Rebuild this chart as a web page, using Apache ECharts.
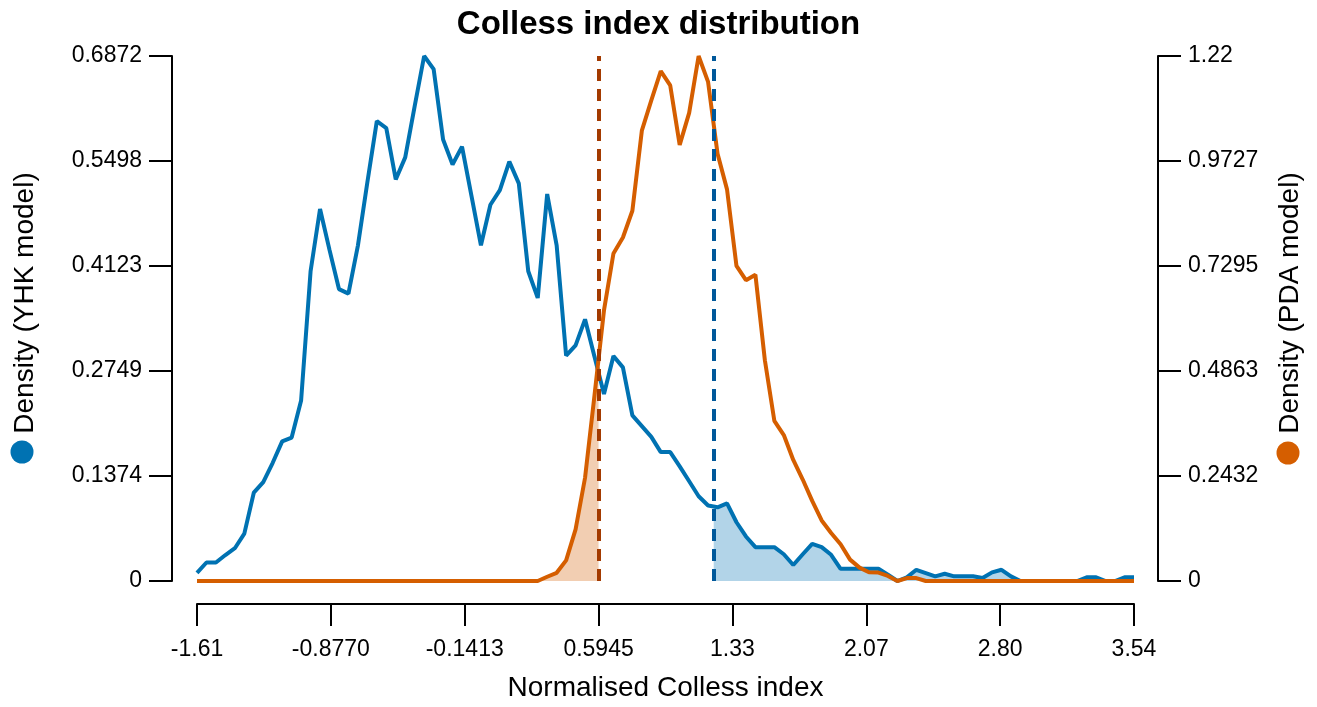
<!DOCTYPE html>
<html>
<head>
<meta charset="utf-8">
<script src="https://cdn.jsdelivr.net/npm/echarts@6/dist/echarts.min.js"></script>
<style>
html,body{margin:0;padding:0;background:#fff;}
#chart{width:1317px;height:707px;}
</style>
</head>
<body>
<div id="chart"></div>
<script>
// ---- data ----
const xStart = -1.61;
const xEnd = 3.54;
const nPoints = 100;

const xTickLabels = ['-1.61', '-0.8770', '-0.1413', '0.5945', '1.33', '2.07', '2.80', '3.54'];
const leftTickLabels = ['0', '0.1374', '0.2749', '0.4123', '0.5498', '0.6872'];
const rightTickLabels = ['0', '0.2432', '0.4863', '0.7295', '0.9727', '1.22'];

const leftMax = 0.6872;
const rightMax = 1.2159;

const yhkDensity = [
  0.0107, 0.0242, 0.0242, 0.0340, 0.0429, 0.0620, 0.1156, 0.1295, 0.1547, 0.1827,
  0.1878, 0.2363, 0.4054, 0.4870, 0.4334, 0.3821, 0.3761, 0.4390, 0.5219, 0.6020,
  0.5928, 0.5256, 0.5545, 0.6216, 0.6872, 0.6701, 0.5778, 0.5452, 0.5685, 0.5042,
  0.4394, 0.4925, 0.5117, 0.5489, 0.5205, 0.4054, 0.3705, 0.5065, 0.4394, 0.2950,
  0.3085, 0.3425, 0.2936, 0.2447, 0.2945, 0.2796, 0.2167, 0.2027, 0.1887, 0.1687,
  0.1687, 0.1500, 0.1305, 0.1109, 0.0988, 0.0965, 0.1016, 0.0769, 0.0583, 0.0443,
  0.0443, 0.0443, 0.0350, 0.0210, 0.0350, 0.0486, 0.0443, 0.0343, 0.0160, 0.0160,
  0.0160, 0.0160, 0.0160, 0.0082, 0.0000, 0.0048, 0.0147, 0.0104, 0.0061, 0.0095,
  0.0061, 0.0061, 0.0061, 0.0039, 0.0113, 0.0147, 0.0061, 0.0000, 0.0000, 0.0000,
  0.0000, 0.0000, 0.0000, 0.0000, 0.0048, 0.0048, 0.0000, 0.0000, 0.0048, 0.0048
];

const pdaDensity = [
  0, 0, 0, 0, 0, 0, 0, 0, 0, 0,
  0, 0, 0, 0, 0, 0, 0, 0, 0, 0,
  0, 0, 0, 0, 0, 0, 0, 0, 0, 0,
  0, 0, 0, 0, 0, 0, 0, 0.0099, 0.0190, 0.0478,
  0.1196, 0.2391, 0.4300, 0.6266, 0.7585, 0.7956, 0.8575, 1.0430, 1.1131, 1.1807,
  1.1477, 1.0100, 1.0842, 1.2159, 1.1559, 0.9894, 0.9070, 0.7297, 0.6967, 0.7091,
  0.5112, 0.3710, 0.3380, 0.2803, 0.2350, 0.1855, 0.1402, 0.1113, 0.0850, 0.0495,
  0.0310, 0.0203, 0.0195, 0.0116, 0.0000, 0.0068, 0.0068, 0, 0, 0,
  0, 0, 0, 0, 0, 0, 0, 0, 0, 0,
  0, 0, 0, 0, 0, 0, 0, 0, 0, 0
];

const pdaCut = 0.597;   // orange dashed line
const yhkCut = 1.23;    // blue dashed line

// ---- build ----
const xStep = (xEnd - xStart) / (nPoints - 1);
const xs = yhkDensity.map((_, i) => xStart + i * xStep);
const yhkPts = xs.map((x, i) => [x, yhkDensity[i]]);
const pdaPts = xs.map((x, i) => [x, pdaDensity[i]]);

function lineAt(x, pts) {
  for (let i = 0; i < pts.length - 1; i++) {
    if (x >= pts[i][0] && x <= pts[i + 1][0]) {
      const t = (x - pts[i][0]) / (pts[i + 1][0] - pts[i][0]);
      return pts[i][1] + t * (pts[i + 1][1] - pts[i][1]);
    }
  }
  return 0;
}
const pdaFill = pdaPts.filter(p => p[0] <= pdaCut).concat([[pdaCut, lineAt(pdaCut, pdaPts)]]);
const yhkFill = [[yhkCut, lineAt(yhkCut, yhkPts)]].concat(yhkPts.filter(p => p[0] >= yhkCut));

const xTickStep = (xEnd - xStart) / (xTickLabels.length - 1);
const xTickVals = xTickLabels.map((_, k) => xStart + k * xTickStep);
const leftStep = leftMax / (leftTickLabels.length - 1);
const rightStep = rightMax / (rightTickLabels.length - 1);

const FONT = 'Liberation Sans, Arial, sans-serif';
const chart = echarts.init(document.getElementById('chart'));

const axisLineStyle = { show: true, onZero: false, lineStyle: { color: '#000', width: 2 } };
const yTick = { show: true, length: 23, lineStyle: { color: '#000', width: 2 } };

chart.setOption({
  animation: false,
  backgroundColor: '#fff',
  title: {
    text: 'Colless index distribution',
    left: 'center',
    top: 3,
    textStyle: { fontFamily: FONT, fontSize: 33, fontWeight: 'bold', color: '#000' }
  },
  grid: { left: 197, right: 183, top: 56, bottom: 124, containLabel: false },
  xAxis: {
    type: 'value',
    min: xStart,
    max: xEnd,
    offset: 23,
    name: 'Normalised Colless index',
    nameLocation: 'middle',
    nameGap: 70,
    nameTextStyle: { fontFamily: FONT, fontSize: 28, color: '#000' },
    axisLine: axisLineStyle,
    axisTick: { show: true, length: 22, lineStyle: { color: '#000', width: 2 }, customValues: xTickVals },
    axisLabel: {
      customValues: xTickVals,
      margin: 34,
      fontFamily: FONT, fontSize: 23, color: '#000',
      formatter: v => xTickLabels[Math.round((v - xStart) / xTickStep)]
    },
    splitLine: { show: false }
  },
  yAxis: [
    {
      type: 'value', position: 'left', min: 0, max: leftMax, interval: leftStep, offset: 25,
      axisLine: axisLineStyle, axisTick: yTick, splitLine: { show: false },
      axisLabel: { margin: 30, fontFamily: FONT, fontSize: 23, color: '#000',
        formatter: v => leftTickLabels[Math.round(v / leftStep)] }
    },
    {
      type: 'value', position: 'right', min: 0, max: rightMax, interval: rightStep, offset: 24,
      axisLine: axisLineStyle, axisTick: yTick, splitLine: { show: false },
      axisLabel: { margin: 30, fontFamily: FONT, fontSize: 23, color: '#000',
        formatter: v => rightTickLabels[Math.round(v / rightStep)] }
    }
  ],
  series: [
    { type: 'line', yAxisIndex: 1, data: pdaFill, symbol: 'none', silent: true,
      lineStyle: { width: 0 }, areaStyle: { color: 'rgba(213,94,0,0.3)', opacity: 1 }, z: 1 },
    { type: 'line', yAxisIndex: 0, data: yhkFill, symbol: 'none', silent: true,
      lineStyle: { width: 0 }, areaStyle: { color: 'rgba(0,114,178,0.3)', opacity: 1 }, z: 1 },
    { type: 'line', name: 'YHK', yAxisIndex: 0, data: yhkPts, symbol: 'none', clip: false,
      lineStyle: { color: '#0072B2', width: 4 }, z: 2 },
    { type: 'line', name: 'PDA', yAxisIndex: 1, data: pdaPts, symbol: 'none', clip: false,
      lineStyle: { color: '#D55E00', width: 4 }, z: 3,
      markLine: {
        silent: true, symbol: 'none', label: { show: false },
        data: [
          { xAxis: pdaCut, lineStyle: { color: '#A33A00', width: 4, type: [12, 8] } },
          { xAxis: yhkCut, lineStyle: { color: '#00589A', width: 4, type: [12, 8] } }
        ]
      }
    }
  ],
  graphic: [
    { type: 'text', x: 25, y: 303, rotation: Math.PI / 2,
      style: { text: 'Density (YHK model)', font: '28px ' + FONT, fill: '#000', align: 'center', verticalAlign: 'middle' } },
    { type: 'circle', shape: { cx: 22, cy: 452, r: 11.5 }, style: { fill: '#0072B2' } },
    { type: 'text', x: 1290, y: 303, rotation: Math.PI / 2,
      style: { text: 'Density (PDA model)', font: '28px ' + FONT, fill: '#000', align: 'center', verticalAlign: 'middle' } },
    { type: 'circle', shape: { cx: 1288, cy: 453, r: 11.5 }, style: { fill: '#D55E00' } }
  ]
});
</script>
</body>
</html>
